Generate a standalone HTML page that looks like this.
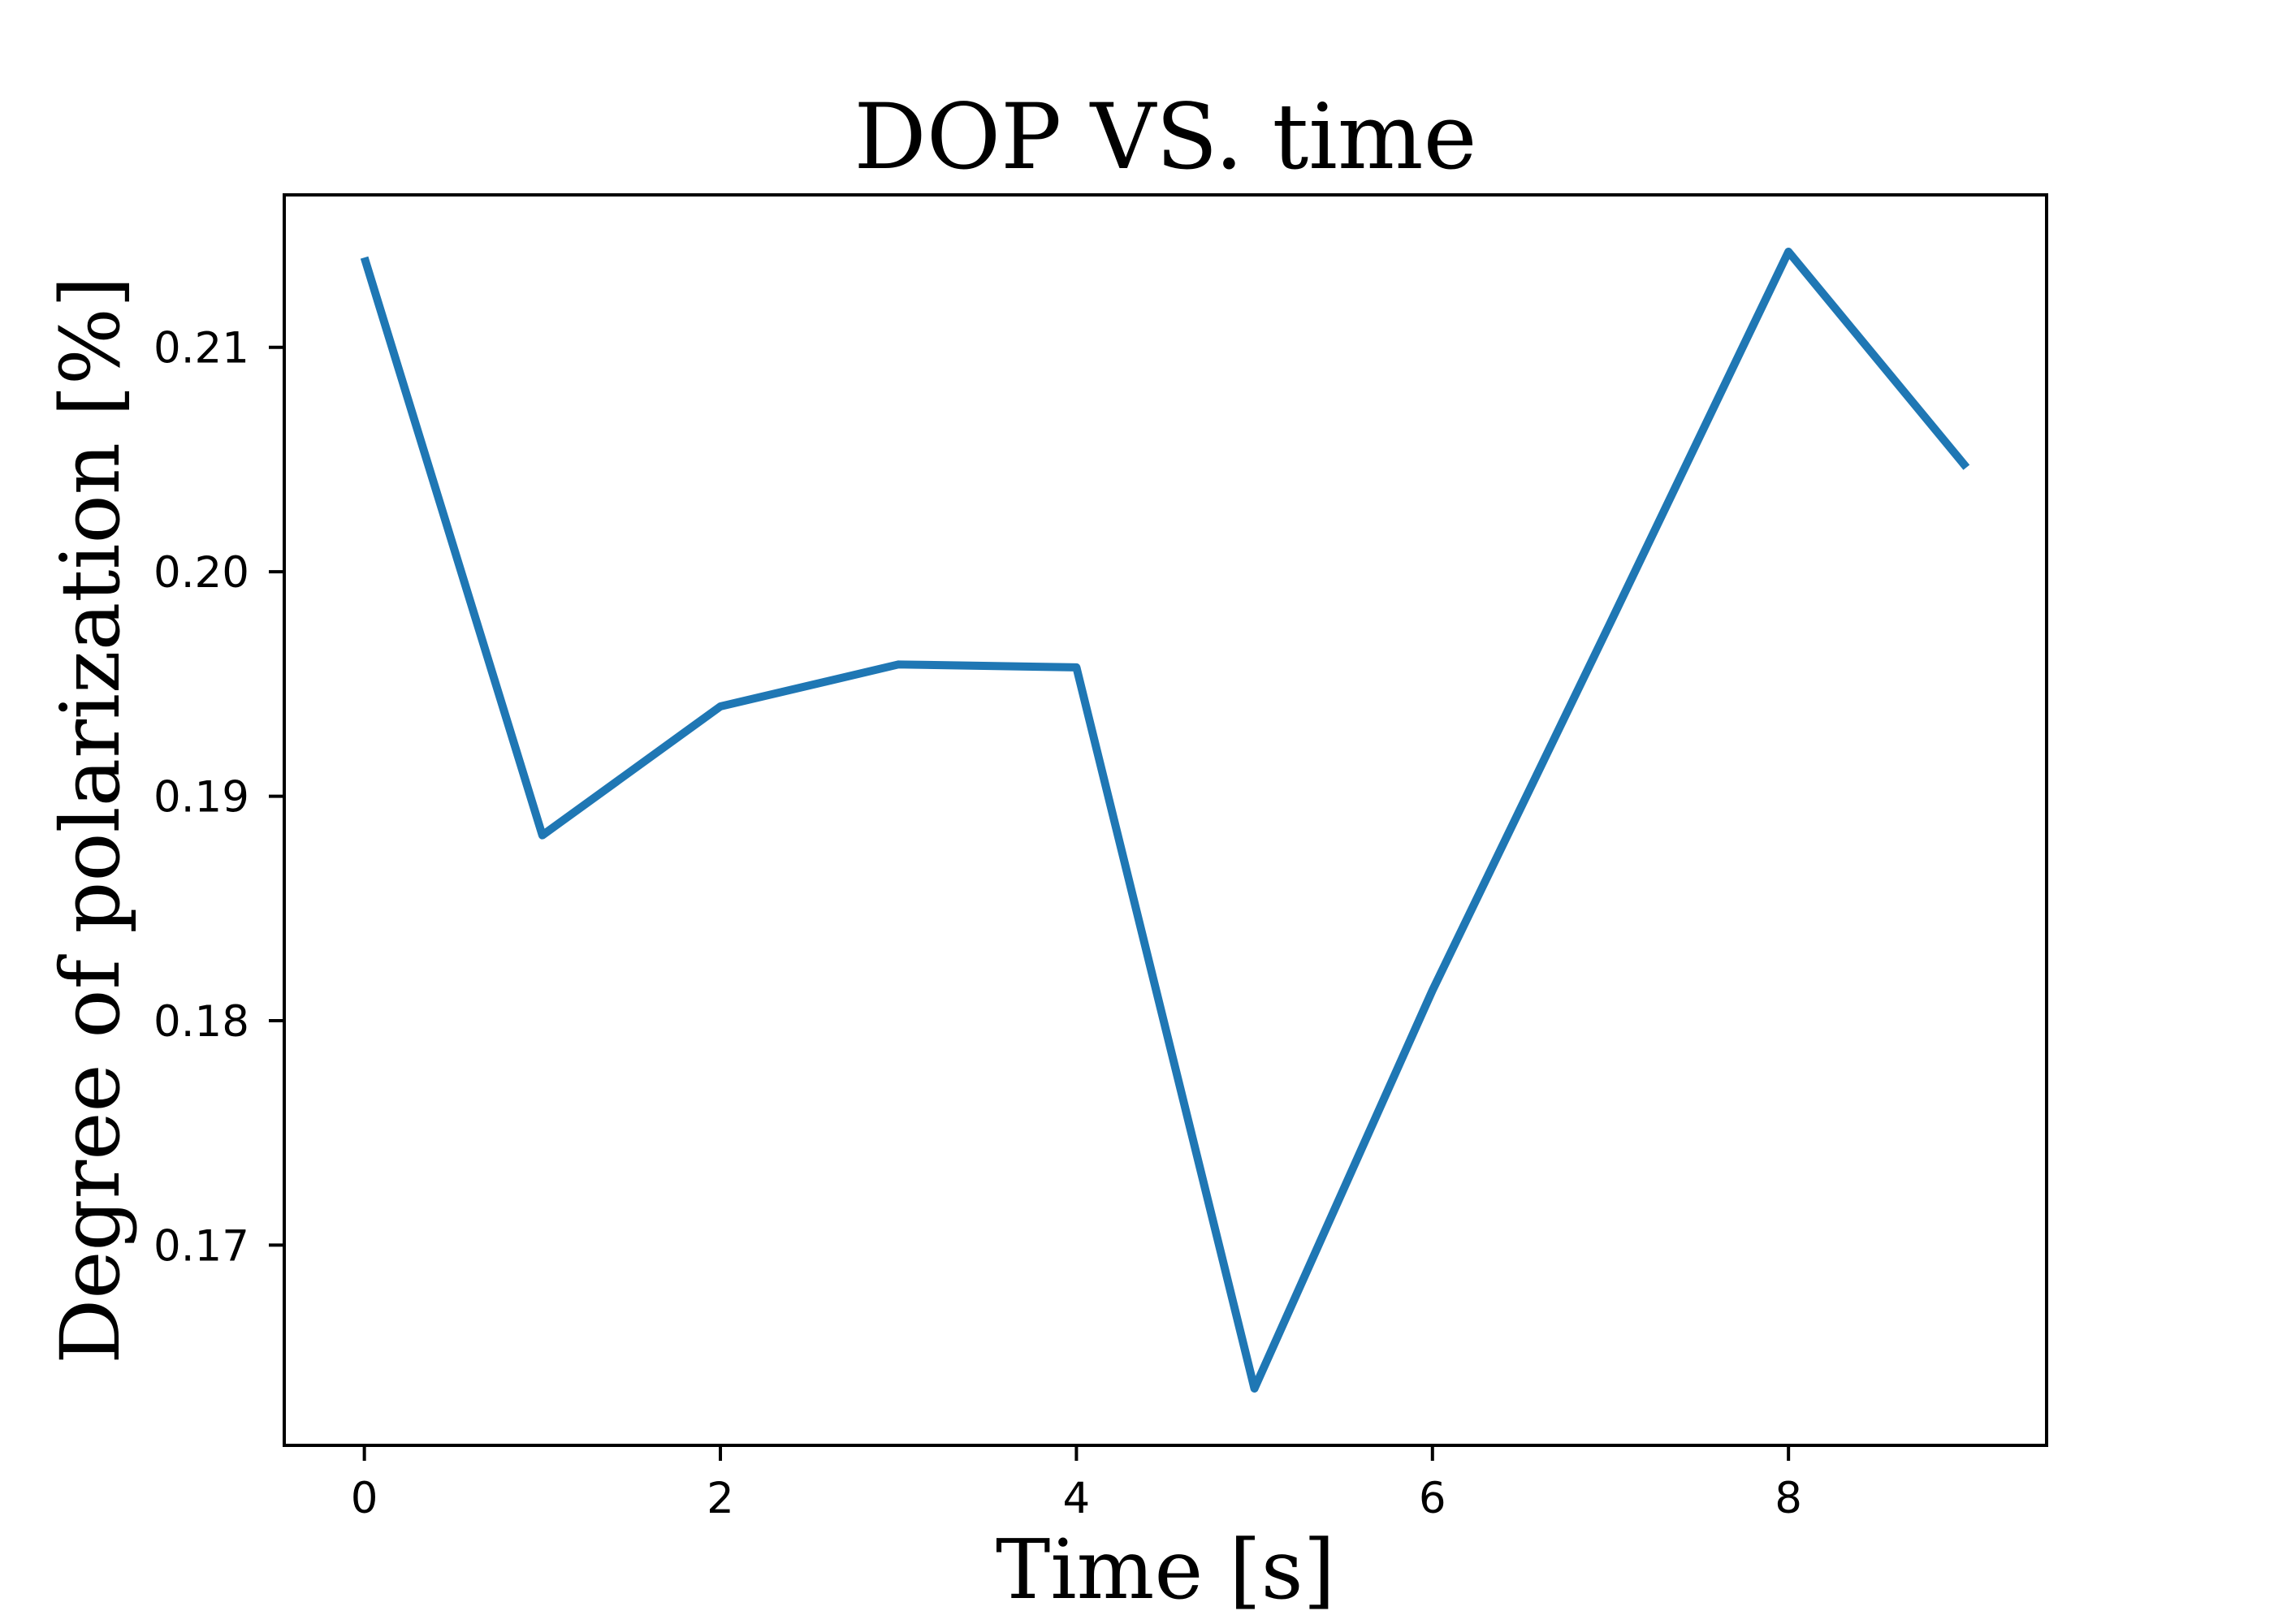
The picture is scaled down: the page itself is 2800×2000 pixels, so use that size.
<!DOCTYPE html>
<html><head><meta charset="utf-8"><style>
html,body{margin:0;padding:0;background:#fff;}
svg{display:block;}
</style></head><body>
<svg id="chart" width="2800" height="2000" xmlns="http://www.w3.org/2000/svg">
<rect x="0" y="0" width="2800" height="2000" fill="#fff"/>
<g id="plot"></g>
<text x="1435" y="207" text-anchor="middle" font-family="DejaVu Serif, Liberation Serif, serif" font-size="111.5">DOP VS. time</text>
<text x="1435" y="1968" text-anchor="middle" font-family="DejaVu Serif, Liberation Serif, serif" font-size="101">Time [s]</text>
<text transform="translate(146,1010) rotate(-90)" text-anchor="middle" font-family="DejaVu Serif, Liberation Serif, serif" font-size="100">Degree of polarization [%]</text>
</svg>
<script>
const times = [0,1,2,3,4,5,6,7,8,9];
const dop = [0.2140,0.18826,0.1940,0.19587,0.19574,0.16361,0.18135,0.19774,0.21426,0.20465];
const xTicks = [0,2,4,6,8];
const xTickLabels = ["0","2","4","6","8"];
const yTicks = [0.17,0.18,0.19,0.20,0.21];
const yTickLabels = ["0.17","0.18","0.19","0.20","0.21"];

const L=350,R=2520,T=240,B=1780;
const xmin0=Math.min(...times), xmax0=Math.max(...times);
const xm=(xmax0-xmin0)*0.05, xmin=xmin0-xm, xmax=xmax0+xm;
const ymin0=Math.min(...dop), ymax0=Math.max(...dop);
const ym=(ymax0-ymin0)*0.05, ymin=ymin0-ym, ymax=ymax0+ym;
function xs(v){return L+(v-xmin)/(xmax-xmin)*(R-L);}
function ys(v){return B-(v-ymin)/(ymax-ymin)*(B-T);}
const NS="http://www.w3.org/2000/svg";
const g=document.getElementById('plot');
function mk(tag,attrs){const e=document.createElementNS(NS,tag);for(const k in attrs)e.setAttribute(k,attrs[k]);g.appendChild(e);return e;}

const line=mk('polyline',{points:times.map((t,i)=>xs(t)+','+ys(dop[i])).join(' '),fill:'none',stroke:'#1f77b4','stroke-width':10,'stroke-linejoin':'round','stroke-linecap':'butt'});



const frame=mk('rect',{x:L,y:T,width:R-L,height:B-T,fill:'none',stroke:'#000','stroke-width':4});



xTicks.forEach((v,i)=>{
  const tk=mk('line',{x1:xs(v),x2:xs(v),y1:B,y2:B+19,stroke:'#000','stroke-width':4});
  
  
  const tx=mk('text',{x:xs(v),y:1863,'text-anchor':'middle','font-family':'DejaVu Sans, Liberation Sans, sans-serif','font-size':53});
  tx.textContent=xTickLabels[i];
  
  
});
yTicks.forEach((v,i)=>{
  const tk=mk('line',{x1:L-19,x2:L,y1:ys(v),y2:ys(v),stroke:'#000','stroke-width':4});
  
  
  const tx=mk('text',{x:307,y:ys(v)+19,'text-anchor':'end','font-family':'DejaVu Sans, Liberation Sans, sans-serif','font-size':53});
  tx.textContent=yTickLabels[i];
  
  
});
</script>
</body></html>
